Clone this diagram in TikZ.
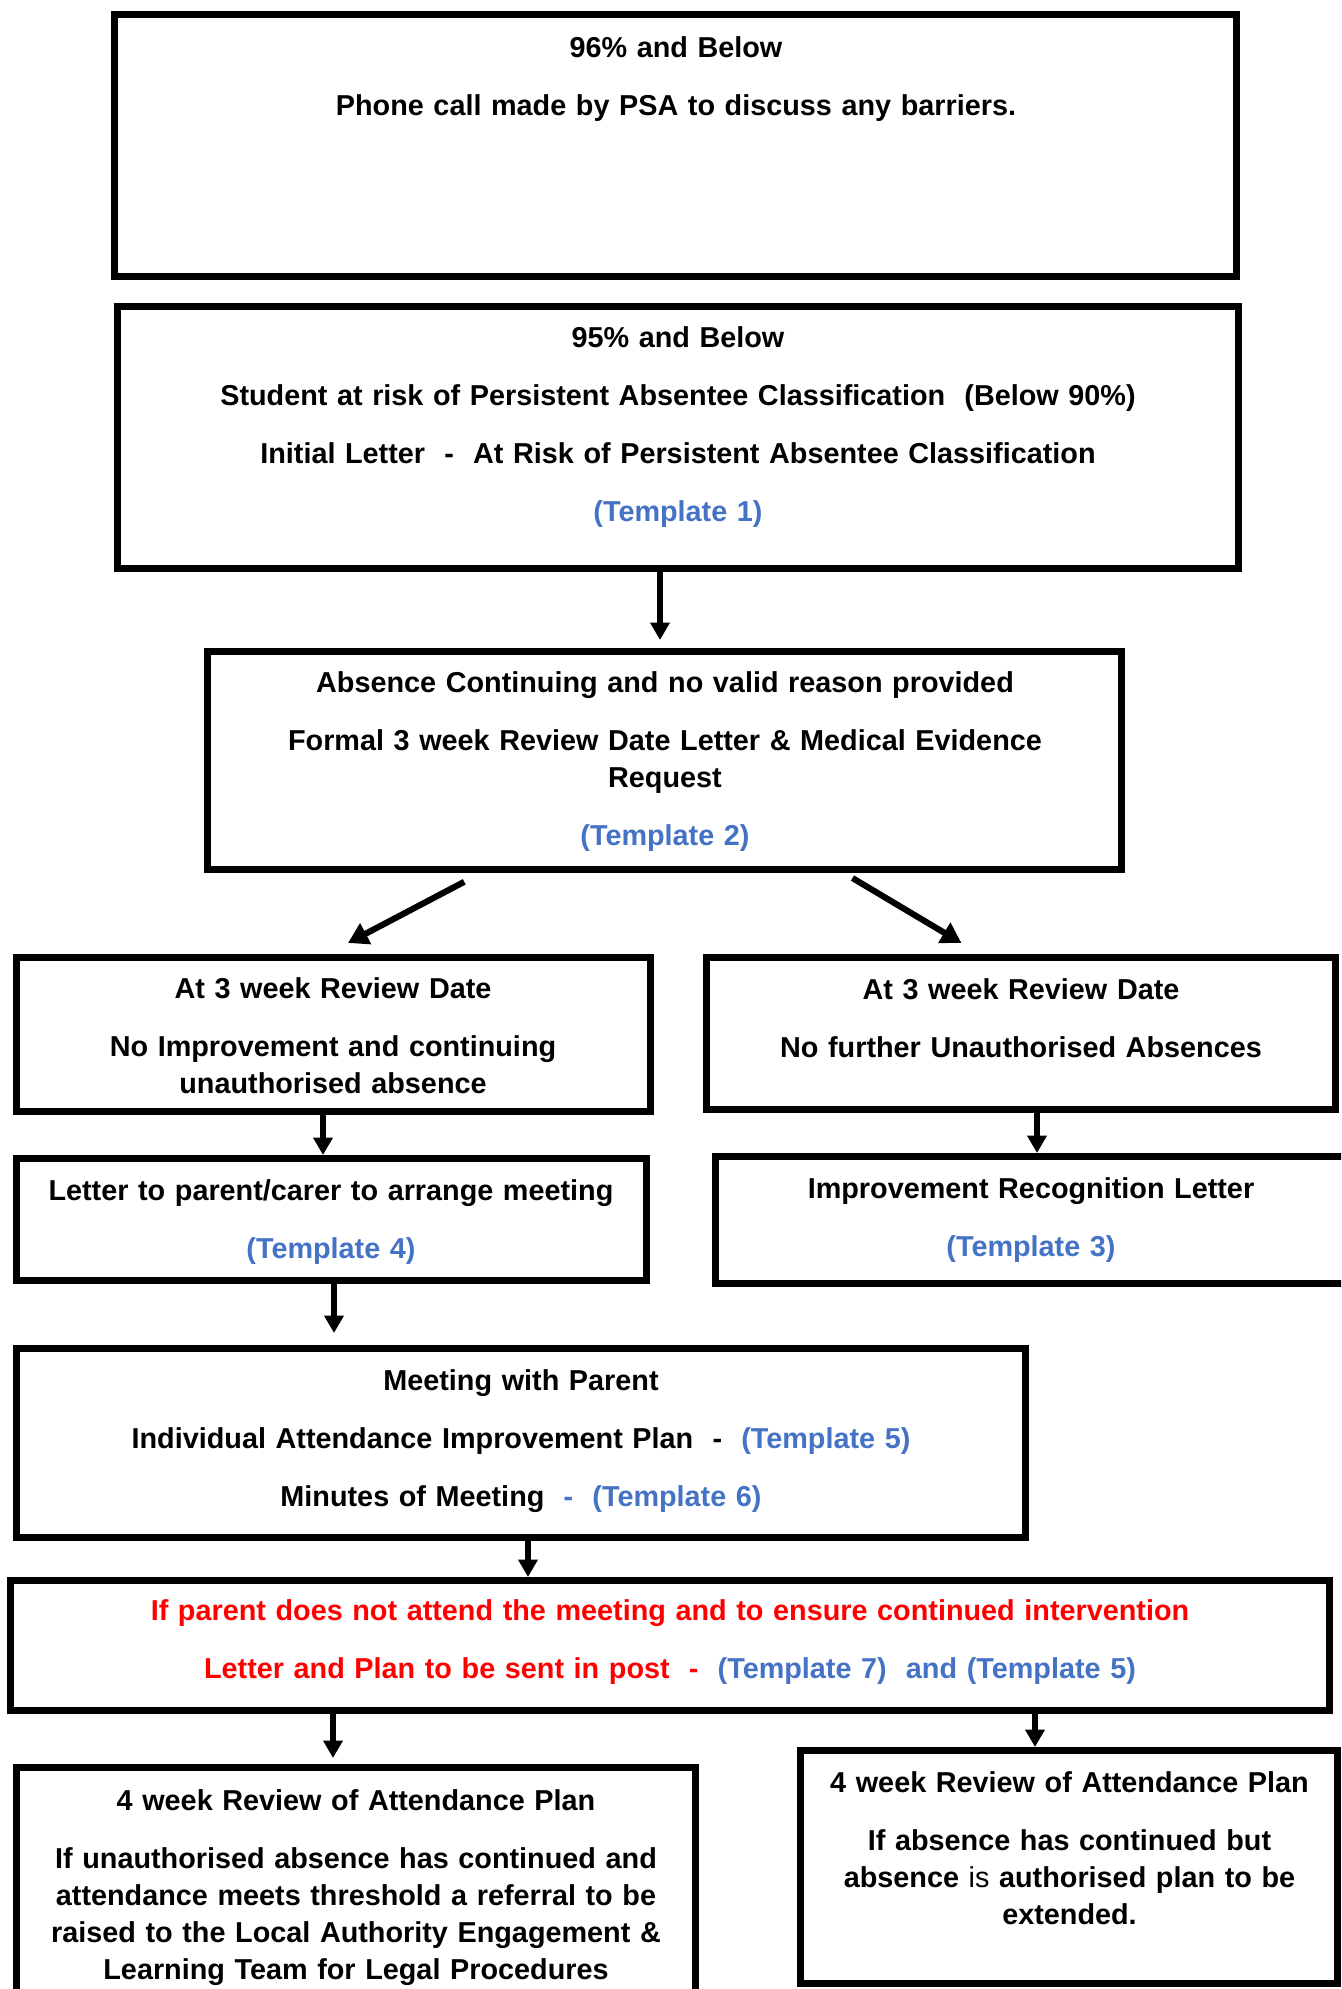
\documentclass[tikz,border=0pt]{standalone}
\usepackage{fontspec}
\setmainfont{Liberation Sans}
\usetikzlibrary{arrows.meta}
\definecolor{tplblue}{HTML}{4472C4}
\definecolor{warnred}{HTML}{FF0000}
\begin{document}
\begin{tikzpicture}[x=0.375pt,y=-0.375pt,
  box/.style={draw, line width=2.625pt, inner sep=0pt},
  txt/.style={anchor=base, align=center, text width=500pt, inner sep=0pt, font=\fontsize{10.8}{13.875}\selectfont\bfseries},
  arr/.style={-{Triangle[length=6.5pt,width=7pt]}, line width=2.1pt},
  darr/.style={-{Triangle[length=7.5pt,width=8.5pt]}, line width=2.3pt}]

\useasboundingbox (0,0) rectangle (1341,1989);
\clip (0,0) rectangle (1341,1989);

\node[box, minimum width=420.75pt, minimum height=98.25pt] (b96) at (675.5,145.5) {};
\node[box, minimum width=420.375pt, minimum height=98.25pt] (b95) at (678,437) {};
\node[box, minimum width=342.75pt, minimum height=81.75pt] (bcont) at (664.5,760.5) {};
\node[box, minimum width=237.75pt, minimum height=57.75pt] (bnoimp) at (333.5,1034.5) {};
\node[box, minimum width=235.875pt, minimum height=57pt] (bnofurther) at (1021,1033.5) {};
\node[box, minimum width=236.25pt, minimum height=45.75pt] (bletter) at (331.5,1219.5) {};
\node[box, minimum width=236.625pt, minimum height=47.625pt] (brecog) at (1031,1220) {};
\node[box, minimum width=378.375pt, minimum height=70.875pt] (bmeeting) at (521,1443) {};
\node[box, minimum width=494.625pt, minimum height=48.75pt] (bpost) at (670,1645.5) {};
\node[box, minimum width=254.625pt, minimum height=97.5pt] (breferral) at (356,1897.5) {};
\node[box, minimum width=201.375pt, minimum height=87.375pt] (bextend) at (1069,1867) {};

\node[txt] (t96) at (676,57) {96\% and Below\\[7.875pt]
  Phone call made by PSA to discuss any barriers.};
\node[txt] (t95) at (678,347) {95\% and Below\\[7.875pt]
  Student at risk of Persistent Absentee Classification~ (Below 90\%)\\[7.875pt]
  Initial Letter~ -~ At Risk of Persistent Absentee Classification\\[7.875pt]
  \textcolor{tplblue}{(Template 1)}};
\node[txt] (tcont) at (665,692) {Absence Continuing and no valid reason provided\\[7.875pt]
  Formal 3 week Review Date Letter \& Medical Evidence\\ Request\\[7.875pt]
  \textcolor{tplblue}{(Template 2)}};
\node[txt] (tnoimp) at (333,998) {At 3 week Review Date\\[7.875pt]
  No Improvement and continuing\\ unauthorised absence};
\node[txt] (tnofurther) at (1021,999) {At 3 week Review Date\\[7.875pt]
  No further Unauthorised Absences};
\node[txt] (tletter) at (331,1200) {Letter to parent/carer to arrange meeting\\[7.875pt]
  \textcolor{tplblue}{(Template 4)}};
\node[txt] (trecog) at (1031,1198) {Improvement Recognition Letter\\[7.875pt]
  \textcolor{tplblue}{(Template 3)}};
\node[txt] (tmeeting) at (521,1390) {Meeting with Parent\\[7.875pt]
  Individual Attendance Improvement Plan~ -~ \textcolor{tplblue}{(Template 5)}\\[7.875pt]
  Minutes of Meeting~ \textcolor{tplblue}{-~ (Template 6)}};
\node[txt, text=warnred] (tpost) at (670,1620) {If parent does not attend the meeting and to ensure continued intervention\\[7.875pt]
  Letter and Plan to be sent in post~ -~ \textcolor{tplblue}{(Template 7)~ and (Template 5)}};
\node[txt] (treferral) at (356,1810) {4 week Review of Attendance Plan\\[7.875pt]
  If unauthorised absence has continued and\\ attendance meets threshold a referral to be\\
  raised to the Local Authority Engagement \&\\ Learning Team for Legal Procedures};
\node[txt] (textend) at (1069.5,1792) {4 week Review of Attendance Plan\\[7.875pt]
  If absence has continued but\\ absence {\mdseries is} authorised plan to be\\ extended.};

\draw[arr, shorten >=3pt] (660,0 |- b95.south) -- (660,0 |- bcont.north);
\draw[darr, shorten <=7.1pt, shorten >=8.9pt] (481,0 |- bcont.south) -- (327,0 |- bnoimp.north);
\draw[darr, shorten <=3.7pt, shorten >=8.1pt] (844,0 |- bcont.south) -- (980,0 |- bnofurther.north);
\draw[arr] (323,0 |- bnoimp.south) -- (323,0 |- bletter.north);
\draw[arr] (1037,0 |- bnofurther.south) -- (1037,0 |- brecog.north);
\draw[arr, shorten >=4.5pt] (334,0 |- bletter.south) -- (334,0 |- bmeeting.north);
\draw[arr] (528,0 |- bmeeting.south) -- (528,0 |- bpost.north);
\draw[arr, shorten >=2.25pt] (333,0 |- bpost.south) -- (333,0 |- breferral.north);
\draw[arr] (1035,0 |- bpost.south) -- (1035,0 |- bextend.north);
\end{tikzpicture}
\end{document}
